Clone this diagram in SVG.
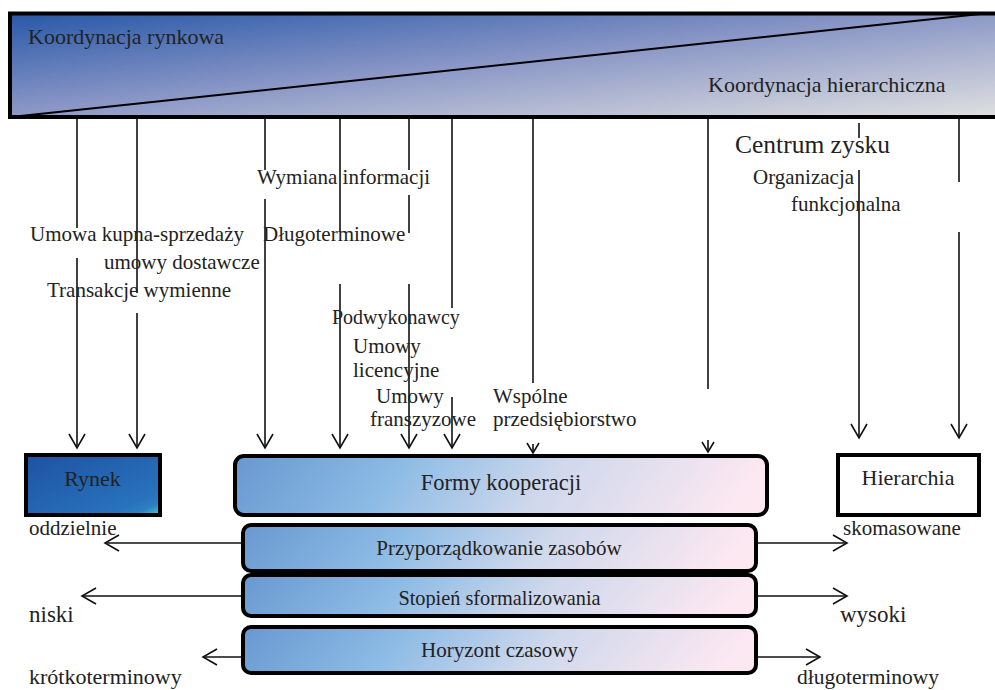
<svg xmlns="http://www.w3.org/2000/svg" width="995" height="690" viewBox="0 0 995 690" font-family="Liberation Serif, Times New Roman, serif">
<style>
text{font-family:"Liberation Serif","Times New Roman",serif;font-size:21px;fill:#222}
.mid{text-anchor:middle}
.box{stroke:#000;stroke-width:4}
.c line{stroke:#111;stroke-width:1.6;fill:none}
.c .a{marker-end:url(#ah)}
.c .s{marker-end:url(#ahs)}
</style>
<defs>
<linearGradient id="gBan" x1="0" y1="0" x2="1" y2="1">
<stop offset="0" stop-color="#2858a8"/>
<stop offset="0.45" stop-color="#8593c5"/>
<stop offset="1" stop-color="#e0e0e0"/>
</linearGradient>
<linearGradient id="gRyn" x1="0" y1="0" x2="1" y2="1">
<stop offset="0" stop-color="#1e52a2"/>
<stop offset="0.8" stop-color="#2872bc"/>
<stop offset="0.9" stop-color="#2c80c2"/>
<stop offset="1" stop-color="#50d2c8"/>
</linearGradient>
<linearGradient id="gForm" x1="0" y1="0" x2="1" y2="0.08">
<stop offset="0" stop-color="#6898d0"/>
<stop offset="0.32" stop-color="#8cbbe5"/>
<stop offset="0.62" stop-color="#cfd8ec"/>
<stop offset="1" stop-color="#fce8f1"/>
</linearGradient>
<marker id="ah" viewBox="-15 -10 17 20" refX="0" refY="0" markerWidth="17" markerHeight="20" markerUnits="userSpaceOnUse" orient="auto">
<path d="M-14,-8 L0,0 L-14,8" fill="none" stroke="#111" stroke-width="1.6"/>
</marker>
<marker id="ahs" viewBox="-12 -8 14 16" refX="0" refY="0" markerWidth="14" markerHeight="16" markerUnits="userSpaceOnUse" orient="auto">
<path d="M-10,-6 L0,0 L-10,6" fill="none" stroke="#111" stroke-width="1.6"/>
</marker>
<clipPath id="clipStop"><rect x="240" y="575" width="520" height="33"/></clipPath>
</defs>

<g id="banner">
<rect x="10" y="13.5" width="990" height="103.5" fill="url(#gBan)" stroke="#000" stroke-width="4"/>
<line x1="11" y1="117" x2="980" y2="14" stroke="#000" stroke-width="2"/>
<text x="28" y="44" style="font-size:22px">Koordynacja rynkowa</text>
<text x="708" y="92" style="font-size:22px">Koordynacja hierarchiczna</text>
</g>

<g id="connectors" class="c">
<line x1="77" y1="119" x2="77" y2="228"/>
<line class="a" x1="77" y1="258" x2="77" y2="448"/>
<line x1="137" y1="119" x2="137" y2="293"/>
<line class="a" x1="137" y1="313" x2="137" y2="448"/>
<line x1="265" y1="119" x2="265" y2="170"/>
<line class="a" x1="265" y1="199" x2="265" y2="448"/>
<line x1="340" y1="119" x2="340" y2="232"/>
<line class="a" x1="340" y1="284" x2="340" y2="448"/>
<line x1="409" y1="119" x2="409" y2="170"/>
<line x1="409" y1="195" x2="409" y2="233"/>
<line class="a" x1="409" y1="284" x2="409" y2="448"/>
<line x1="452" y1="119" x2="452" y2="308"/>
<line class="a" x1="452" y1="397" x2="452" y2="448"/>
<line x1="533" y1="119" x2="533" y2="383"/>
<line class="s" x1="533" y1="444" x2="533" y2="453"/>
<line x1="708" y1="119" x2="708" y2="389"/>
<line class="s" x1="708" y1="440" x2="708" y2="452"/>
<line x1="859" y1="123" x2="859" y2="138"/>
<line class="a" x1="859" y1="170" x2="859" y2="438"/>
<line x1="959" y1="119" x2="959" y2="182"/>
<line class="a" x1="959" y1="232" x2="959" y2="438"/>
<line class="a" x1="241" y1="543" x2="105" y2="543"/>
<line class="a" x1="241" y1="596" x2="82" y2="596"/>
<line class="a" x1="241" y1="657" x2="203" y2="657"/>
<line class="a" x1="758" y1="543" x2="847" y2="543"/>
<line class="a" x1="758" y1="596" x2="847" y2="596"/>
<line class="a" x1="758" y1="657" x2="820" y2="657"/>
</g>

<g id="labels">
<text x="257" y="184">Wymiana informacji</text>
<text x="30" y="241">Umowa kupna-sprzedaży</text>
<text x="263" y="241">Długoterminowe</text>
<text x="104" y="269">umowy dostawcze</text>
<text x="47" y="297">Transakcje wymienne</text>
<text x="332" y="324" style="font-size:20px">Podwykonawcy</text>
<text x="353" y="353">Umowy</text>
<text x="353" y="377">licencyjne</text>
<text x="376" y="403">Umowy</text>
<text x="370" y="426">franszyzowe</text>
<text x="735" y="153" style="font-size:25.5px">Centrum zysku</text>
<text x="753" y="184">Organizacja</text>
<text x="791" y="211">funkcjonalna</text>
<text x="493" y="403">Wspólne</text>
<text x="493" y="426">przedsiębiorstwo</text>
<text x="29" y="535">oddzielnie</text>
<text x="29" y="622" style="font-size:23px">niski</text>
<text x="29" y="684" style="font-size:22px">krótkoterminowy</text>
<text x="843" y="535">skomasowane</text>
<text x="840" y="622" style="font-size:23px">wysoki</text>
<text x="797" y="684" style="font-size:21.5px">długoterminowy</text>
</g>

<g id="rynek">
<rect class="box" x="26" y="455" width="134" height="60" fill="url(#gRyn)" stroke-width="3.5"/>
<text class="mid" x="92.5" y="486" style="font-size:22px">Rynek</text>
</g>

<g id="hierarchia">
<rect class="box" x="838" y="455" width="141" height="60" fill="#fff" stroke-width="3.5"/>
<text class="mid" x="908" y="485" style="font-size:22px">Hierarchia</text>
</g>

<g id="formy">
<rect class="box" x="235" y="456" width="532" height="59" rx="9" fill="url(#gForm)"/>
<text class="mid" x="501" y="490" style="font-size:22.5px">Formy kooperacji</text>
</g>

<g id="przyporzadkowanie">
<rect class="box" x="243" y="525" width="513" height="46" rx="8" fill="url(#gForm)"/>
<text class="mid" x="499" y="555">Przyporządkowanie zasobów</text>
</g>

<g id="stopien">
<rect class="box" x="243" y="575" width="513" height="41" rx="8" fill="url(#gForm)"/>
<text class="mid" x="499.5" y="605" style="font-size:20.3px" clip-path="url(#clipStop)">Stopień sformalizowania</text>
</g>

<g id="horyzont">
<rect class="box" x="243" y="627" width="513" height="46" rx="8" fill="url(#gForm)"/>
<text class="mid" x="499.5" y="657">Horyzont czasowy</text>
</g>
</svg>
